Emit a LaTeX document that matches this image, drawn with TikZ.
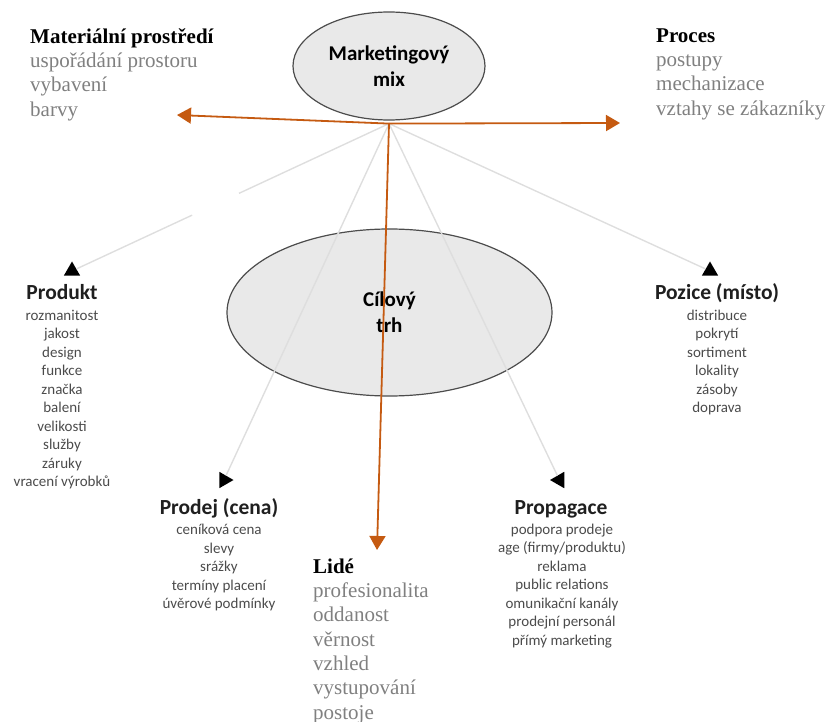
\documentclass[tikz,border=0pt]{standalone}
\usepackage{fontspec}
\setmainfont{Liberation Serif}
\newfontfamily\calfont{Carlito}
\usetikzlibrary{shapes.geometric,arrows.meta}

\definecolor{mixorange}{RGB}{197,90,17}
\definecolor{serifgray}{RGB}{128,128,128}
\definecolor{listgray}{RGB}{75,75,75}
\definecolor{spokegray}{RGB}{222,222,222}
\definecolor{bubblefill}{RGB}{233,233,233}

\tikzset{
  bubble/.style={ellipse, draw=black!70, line width=1.2pt, fill=bubblefill, inner sep=0pt,
    align=center, font=\calfont\bfseries\fontsize{21}{26}\selectfont},
  spoke/.style={draw=spokegray, line width=1.4pt},
  arrowhd/.style={regular polygon, regular polygon sides=3, fill=black, inner sep=0pt, minimum size=19pt},
  mixarrow/.style={draw=mixorange, line width=1.8pt, -{Triangle[width=16pt,length=14pt]}},
  groupname/.style={font=\calfont\bfseries\fontsize{21.5}{26}\selectfont, inner sep=0pt, text=black!88, anchor=base},
  grouplist/.style={font=\calfont\fontsize{15}{18.5}\selectfont, inner sep=0pt, align=center, text=listgray, anchor=north},
  serifblock/.style={font=\fontsize{21}{24.3}\selectfont, inner sep=0pt, align=left, anchor=north west, text=serifgray}
}

\begin{document}
\begin{tikzpicture}[x=1pt, y=-1pt]
    \useasboundingbox (0,0) rectangle (828,722);

    % the two ellipses
    \node[bubble, minimum width=325pt, minimum height=167pt] (target) at (389.5,312.5) {C\'ilov\'y\\trh};
    \node[bubble, minimum width=192pt, minimum height=108pt] (mix) at (389,66) {Marketingov\'y\\mix};
    \coordinate (hub) at ([yshift=-3pt]mix.south);

    % arrow heads of the four P's
    \node[arrowhd] (tprod) at (72,271) {};
    \node[arrowhd] (tpoz) at (710,271) {};
    \node[arrowhd, rotate=-90] (tcena) at (224,480) {};
    \node[arrowhd, rotate=90] (tprop) at (559.5,480) {};

    % light spokes (the one to Produkt is broken)
    \path (hub) -- (tprod) coordinate[pos=.48] (gapa) coordinate[pos=.63] (gapb);
    \draw[spoke] (hub) -- (gapa);
    \draw[spoke] (gapb) -- (tprod);
    \draw[spoke] (hub) -- (tpoz);
    \draw[spoke] (hub) -- (tcena);
    \draw[spoke] (hub) -- (tprop);

    % Produkt
    \node[groupname] (prod) at (62,300) {Produkt};
    \node[grouplist] (prodlist) at (62,307) {\strut rozmanitost\\jakost\\design\\funkce\\zna\v{c}ka\\balen\'i\\velikosti\\slu\v{z}by\\z\'aruky\\vracen\'i v\'yrobk\r{u}};

    % Pozice
    \node[groupname] (poz) at (717,300) {Pozice (m\'isto)};
    \node[grouplist] (pozlist) at (717,307) {\strut distribuce\\pokryt\'i\\sortiment\\lokality\\z\'asoby\\doprava};

    % Prodej
    \node[groupname] (cena) at (219,514) {Prodej (cena)};
    \node[grouplist] (cenalist) at (219,521.5) {\strut cen\'ikov\'a cena\\slevy\\sr\'a\v{z}ky\\term\'iny placen\'i\\\'uv\v{e}rov\'e podm\'inky};

    % Propagace
    \node[groupname] (prop) at (561,514) {Propagace};
    \node[grouplist] (proplist) at (562,521) {\strut podpora prodeje\\age (firmy/produktu)\\reklama\\public relations\\omunika\v{c}n\'i kan\'aly\\prodejn\'i person\'al\\p\v{r}\'im\'y marketing};

    % the added P's
    \node[serifblock] (envir) at (30,26) {\strut\textcolor{black}{\textbf{Materi\'aln\'i prost\v{r}ed\'i}}\\uspo\v{r}\'ad\'an\'i prostoru\\vybaven\'i\\barvy};
    \node[serifblock] (proc) at (656,25) {\strut\textcolor{black}{\textbf{Proces}}\\postupy\\mechanizace\\vztahy se z\'akazn\'iky};
    \node[serifblock] (people) at (313,556) {\strut\textcolor{black}{\textbf{Lid\'e}}\\profesionalita\\oddanost\\v\v{e}rnost\\vzhled\\vystupov\'an\'i\\postoje};

    \coordinate (envtip) at (177,115);
    \coordinate (proctip) at (620,123);
    \coordinate (peopletip) at (377,550);
    \draw[mixarrow] (hub) -- (envtip);
    \draw[mixarrow] (hub) -- (proctip);
    \draw[mixarrow] (hub) -- (peopletip);

\end{tikzpicture}
\end{document}
